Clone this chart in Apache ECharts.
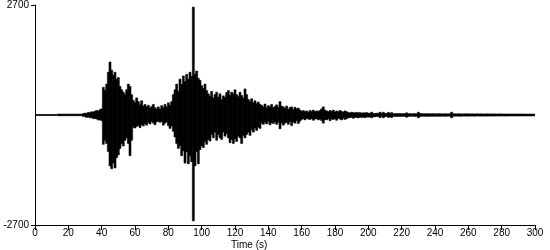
<!DOCTYPE html>
<html>
<head>
<meta charset="utf-8">
<script src="https://cdn.jsdelivr.net/npm/echarts@6/dist/echarts.min.js"></script>
<style>html,body{margin:0;padding:0;background:#fff;}#c{width:550px;height:250px;}</style>
</head>
<body>
<div id="c"></div>
<script>
// Envelope of the record, one entry per second (t = 0 .. 300 s), in cm/s/s
var upper = [
0,0,0,0,0,0,0,0,0,0, 0,0,0,0,22,22,22,22,22,22,
22,22,22,22,22,22,22,22,22,35, 45,40,65,55,80,75,95,110,100,130,
150,680,600,760,1050,1300,1100,980,1050,880, 920,700,620,560,500,620,760,700,500,360,
300,420,330,250,350,220,260,200,240,170, 210,260,180,150,200,140,230,180,260,200,
300,240,330,500,620,760,580,880,750,960, 820,1000,880,1050,950,2650,1000,1080,900,850,
720,650,760,600,520,460,580,420,500,560, 440,520,380,470,430,550,600,480,560,520,
620,500,450,560,480,420,640,500,380,330, 400,300,350,280,320,260,240,200,270,180,
230,200,260,180,210,250,190,330,220,200, 160,220,140,180,200,130,190,150,170,120,
90,110,80,100,70,110,90,120,80,100, 90,110,150,200,120,100,80,110,90,120,
70,100,80,110,90,70,100,80,60,50, 70,60,50,65,55,60,45,55,50,60,
45,40,70,40,35,45,40,70,40,70, 35,40,65,35,60,35,30,38,32,35,
30,34,30,55,30,32,28,35,30,30, 70,35,30,32,28,30,33,28,30,32,
28,30,32,28,30,28,30,27,30,28, 70,30,28,27,30,28,26,28,27,30,
28,26,28,27,26,28,27,26,28,25, 27,26,28,25,26,27,25,26,25,27,
25,26,24,25,26,24,25,24,25,24, 23,24,25,23,24,22,23,24,22,23,
22
];
var lower = [
0,0,0,0,0,0,0,0,0,0, 0,0,0,0,-18,-18,-18,-18,-18,-18,
-18,-18,-18,-18,-18,-18,-18,-18,-18,-35, -40,-60,-50,-70,-65,-90,-85,-100,-125,-115,
-140,-720,-620,-700,-900,-1250,-1320,-1180,-1300,-1050, -980,-820,-700,-760,-620,-560,-700,-1000,-620,-300,
-320,-280,-260,-310,-240,-270,-210,-250,-180,-220, -160,-200,-240,-170,-150,-180,-160,-250,-200,-170,
-260,-330,-270,-400,-540,-700,-820,-750,-1000,-880, -1180,-900,-1200,-1000,-1150,-2600,-1250,-900,-1200,-850,
-760,-800,-650,-720,-600,-640,-480,-560,-420,-620, -480,-560,-600,-420,-520,-460,-560,-680,-600,-700,
-580,-650,-520,-560,-700,-500,-560,-480,-420,-500, -360,-420,-320,-380,-300,-330,-200,-230,-180,-220,
-160,-240,-190,-210,-170,-230,-180,-340,-200,-250, -200,-180,-230,-160,-260,-170,-200,-140,-210,-150,
-110,-90,-120,-80,-100,-110,-90,-130,-100,-90, -120,-100,-140,-200,-110,-120,-90,-140,-100,-110,
-90,-130,-80,-100,-120,-80,-110,-90,-70,-60, -60,-80,-55,-60,-70,-50,-60,-55,-65,-50,
-55,-45,-70,-40,-45,-35,-40,-65,-35,-70, -40,-35,-60,-40,-65,-35,-32,-36,-34,-32,
-35,-30,-33,-55,-35,-30,-32,-30,-34,-30, -70,-35,-32,-30,-30,-33,-30,-28,-32,-30,
-30,-28,-30,-32,-28,-30,-29,-30,-27,-30, -70,-28,-30,-28,-27,-30,-28,-27,-26,-28,
-27,-28,-26,-27,-28,-26,-25,-27,-26,-28, -25,-27,-26,-25,-27,-25,-26,-25,-26,-24,
-25,-24,-25,-26,-24,-25,-23,-24,-25,-23, -24,-23,-22,-24,-23,-22,-23,-22,-23,-22,
-22
];
var xTicks = {min: 0, max: 300, step: 20};
var yTicks = [-2700, 2700];
var xTitle = 'Time (s)';
var yTitle = 'cm/s/s';

var trace = [];
for (var i = 0; i < upper.length; i++) {
  trace.push([i, lower[i], upper[i]]);
}

var FONT = '"Liberation Sans", Arial, sans-serif';
var chart = echarts.init(document.getElementById('c'), null, {renderer: 'canvas'});
chart.setOption({
  animation: false,
  backgroundColor: '#ffffff',
  grid: {left: 35, right: 15, top: 5, bottom: 25, containLabel: false, outerBoundsMode: 'none'},
  xAxis: {
    type: 'value', min: xTicks.min, max: xTicks.max, interval: xTicks.step,
    axisLine: {onZero: false, lineStyle: {color: '#000', width: 1}},
    axisTick: {show: true, length: 5, lineStyle: {color: '#000'}},
    axisLabel: {color: '#000', fontSize: 10, fontFamily: FONT, margin: 3},
    splitLine: {show: false}
  },
  yAxis: {
    type: 'value', min: yTicks[0], max: yTicks[1],
    axisLine: {show: true, lineStyle: {color: '#000', width: 1}},
    axisTick: {show: true, length: 4, customValues: yTicks, lineStyle: {color: '#000'}},
    axisLabel: {color: '#000', fontSize: 10, fontFamily: FONT, margin: 6, customValues: yTicks,
      formatter: function (v) { return String(v); }},
    splitLine: {show: false},
    name: yTitle, nameLocation: 'middle', nameRotate: 90, nameGap: 22,
    nameTextStyle: {color: '#000', fontSize: 10, fontFamily: FONT}
  },
  graphic: [{
    type: 'text', left: 231, top: 240,
    style: {text: xTitle, fill: '#000', font: '10px ' + FONT}
  }],
  series: [{
    type: 'custom', data: trace, clip: true,
    renderItem: function (params, api) {
      var t = api.value(0);
      var p1 = api.coord([t - 0.5, api.value(2)]);
      var p2 = api.coord([t + 0.5, api.value(1)]);
      var x = p1[0], y = p1[1];
      var w = p2[0] - p1[0];
      var h = Math.max(1, p2[1] - p1[1]);
      if (h === 1) y = y - 0.5;
      return {type: 'rect', shape: {x: x - 0.2, y: y, width: w + 0.4, height: h},
        style: {fill: '#000', stroke: '#000', lineWidth: 0.5}};
    }
  }]
});
</script>
</body>
</html>
